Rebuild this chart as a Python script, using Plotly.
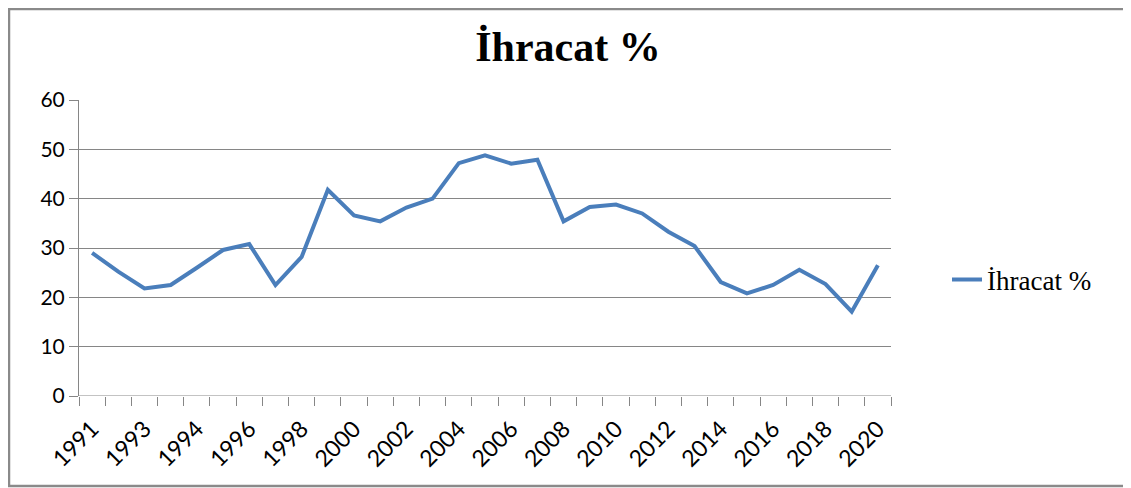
import plotly.graph_objects as go

categories = ["1991", "1992", "1993", "1993", "1994", "1995", "1996", "1997", "1998", "1999",
              "2000", "2001", "2002", "2003", "2004", "2005", "2006", "2007", "2008", "2009",
              "2010", "2011", "2012", "2013", "2014", "2015", "2016", "2017", "2018", "2019", "2020"]
ihracat = [29.0, 25.2, 21.8, 22.5, 26.0, 29.6, 30.8, 22.5, 28.2, 41.8,
           36.6, 35.4, 38.2, 40.0, 47.2, 48.8, 47.1, 47.9, 35.4, 38.3,
           38.8, 37.0, 33.3, 30.4, 23.1, 20.8, 22.5, 25.6, 22.7, 17.1, 26.5]
y_ticks = [0, 10, 20, 30, 40, 50, 60]

idx = list(range(len(categories)))
label_idx = idx[::2]
label_txt = [categories[i] for i in label_idx]

fig = go.Figure()
fig.add_trace(go.Scatter(
    x=idx, y=ihracat, mode="lines", name="İhracat %",
    line=dict(color="#4A7EBB", width=4),
))

# page has an 8px body margin; figure coordinates are page coordinates minus 8
W, H = 1123, 480
L, R, T, B = 71, 240, 92, 92
PW, PH = W - L - R, H - T - B

fig.update_layout(
    width=W, height=H,
    margin=dict(l=L, r=R, t=T, b=B),
    paper_bgcolor="white", plot_bgcolor="white",
    title=dict(text="<b>İhracat %</b>", x=560 / W, xanchor="center", xref="container",
               y=1 - 38 / H, yref="container", yanchor="middle",
               font=dict(family="Liberation Serif", size=42, color="black")),
    showlegend=True,
    legend=dict(x=(939 - L) / PW, xanchor="left", y=(H - B - 272) / PH, yanchor="middle",
                font=dict(family="Liberation Serif", size=27, color="black"),
                bgcolor="rgba(0,0,0,0)"),
    xaxis=dict(range=[-0.5, len(categories) - 0.5], tickmode="array",
               tickvals=label_idx, ticktext=label_txt, tickangle=-45,
               ticks="", showgrid=False, zeroline=False,
               showline=False, ticklabelstandoff=14,
               tickfont=dict(family="Lato", size=23, color="black"),
               minor=dict(ticks="outside", tick0=-0.5, dtick=1, ticklen=9,
                          tickcolor="#868686", tickwidth=1, showgrid=False)),
    yaxis=dict(range=[0, 60], tickmode="array", tickvals=y_ticks,
               showgrid=True, gridcolor="#868686", gridwidth=1,
               zeroline=False, showline=True, linecolor="#868686", linewidth=1,
               ticks="outside", ticklen=9, tickcolor="#868686",
               tickfont=dict(family="Lato", size=21, color="black")),
    shapes=[
        dict(type="rect", xref="paper", yref="paper",
             x0=(1 - L) / PW, x1=(1121 - L) / PW,
             y0=(H - B - 478) / PH, y1=(H - B - 1) / PH,
             line=dict(color="#8a8a8a", width=2.5), fillcolor="rgba(0,0,0,0)", layer="below"),
        dict(type="line", xref="paper", yref="y", x0=0, x1=1, y0=0, y1=0,
             line=dict(color="#868686", width=1)),
    ],
)

fig.write_html("out.html")
